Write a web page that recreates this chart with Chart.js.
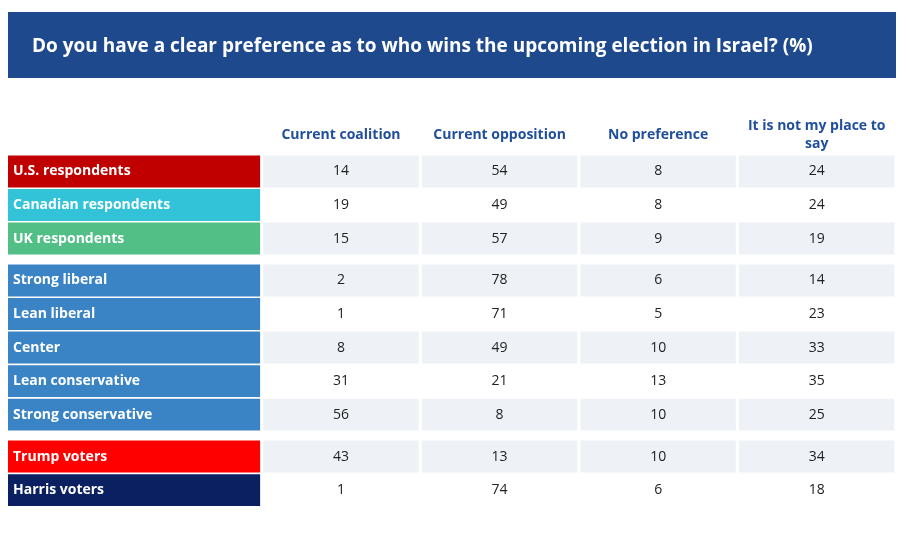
<!DOCTYPE html>
<html><head><meta charset="utf-8">
<script src="https://cdn.jsdelivr.net/npm/chart.js@4"></script>
<style>html,body{margin:0;padding:0;background:#fff;overflow:hidden}canvas{display:block}</style>
</head><body><canvas id="c" width="906" height="557" style="width:906px;height:557px"></canvas>
<script>
const title = "Do you have a clear preference as to who wins the upcoming election in Israel? (%)";
const columns = ["Current coalition", "Current opposition", "No preference", ["It is not my place to", "say"]];
const groups = [
  ["U.S. respondents", "Canadian respondents", "UK respondents"],
  ["Strong liberal", "Lean liberal", "Center", "Lean conservative", "Strong conservative"],
  ["Trump voters", "Harris voters"]
];
const currentCoalition  = [14, 19, 15, 2, 1, 8, 31, 56, 43, 1];
const currentOpposition = [54, 49, 57, 78, 71, 49, 21, 8, 13, 74];
const noPreference      = [8, 8, 9, 6, 5, 10, 13, 10, 10, 6];
const notMyPlace        = [24, 24, 19, 14, 23, 33, 35, 25, 34, 18];
const rowColors = ["#c00000", "#33c3d9", "#52bf87", "#3a84c6", "#3a84c6", "#3a84c6", "#3a84c6", "#3a84c6", "#ff0000", "#0b2060"];
const cellShade = ["#eef2f7", "#ffffff", "#eef2f7", "#eef2f7", "#ffffff", "#eef2f7", "#ffffff", "#eef2f7", "#eef2f7", "#ffffff"];

const labels = groups.flat();
const rowPos = [];
groups.forEach((g, k) => g.forEach(() => rowPos.push(rowPos.length + k * 0.25)));
const values = [currentCoalition, currentOpposition, noPreference, notMyPlace];
const LW = 1.6, gap = 0.01;

const datasets = [{
  data: labels.map((l, i) => ({x: [0, LW - gap], y: rowPos[i]})),
  backgroundColor: rowColors
}];
values.forEach((v, c) => datasets.push({
  data: v.map((val, i) => ({x: [LW + c + gap, LW + c + 1 - gap], y: rowPos[i], v: val})),
  backgroundColor: cellShade
}));

const font = '"Open Sans", sans-serif';
const tablePlugin = {
  id: 'table',
  beforeDraw(chart) {
    const ctx = chart.ctx;
    ctx.save();
    ctx.fillStyle = '#1e4a8d';
    ctx.fillRect(8, 12, 888, 66);
    ctx.fillStyle = '#fff';
    ctx.font = 'bold 19px ' + font;
    ctx.textBaseline = 'middle';
    ctx.fillText(title, 32, 47);
    ctx.restore();
  },
  afterDatasetsDraw(chart) {
    const ctx = chart.ctx, xs = chart.scales.x, ys = chart.scales.y;
    ctx.save();
    ctx.textBaseline = 'middle';
    ctx.fillStyle = '#fff';
    ctx.font = 'bold 14px ' + font;
    ctx.textAlign = 'left';
    labels.forEach((l, i) => ctx.fillText(l, xs.getPixelForValue(0) + 5, ys.getPixelForValue(rowPos[i])));
    ctx.fillStyle = '#222';
    ctx.font = '14px ' + font;
    ctx.textAlign = 'center';
    values.forEach((v, c) => v.forEach((val, i) =>
      ctx.fillText(String(val), xs.getPixelForValue(LW + c + 0.5), ys.getPixelForValue(rowPos[i]))));
    ctx.fillStyle = '#1f4e9c';
    ctx.font = 'bold 14px ' + font;
    columns.forEach((h, c) => {
      const x = xs.getPixelForValue(LW + c + 0.5);
      const y = ys.getPixelForValue(-1.1);
      const lines = Array.isArray(h) ? h : [h];
      lines.forEach((t, j) => ctx.fillText(t, x, y + (j - (lines.length - 1) / 2) * 18));
    });
    ctx.restore();
  }
};

new Chart(document.getElementById('c'), {
  type: 'bar',
  data: {datasets},
  plugins: [tablePlugin],
  options: {
    responsive: false, animation: false, devicePixelRatio: 1,
    indexAxis: 'y',
    layout: {padding: {top: 89, bottom: 18, left: 8, right: 10}},
    datasets: {bar: {grouped: false, barPercentage: 0.95, categoryPercentage: 1}},
    plugins: {legend: {display: false}, tooltip: {enabled: false}},
    scales: {
      x: {type: 'linear', min: 0, max: LW + 4, display: false},
      y: {type: 'linear', min: -1.5, max: 10, reverse: true, display: false}
    }
  }
});
</script></body></html>
